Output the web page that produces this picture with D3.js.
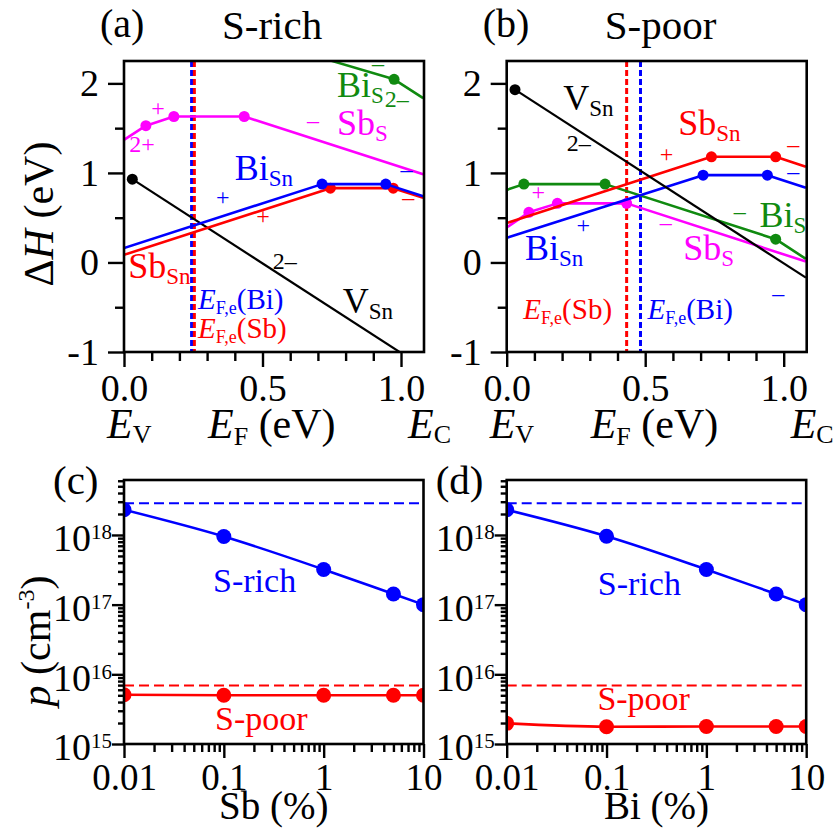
<!DOCTYPE html>
<html>
<head>
<meta charset="utf-8">
<script src="https://cdn.jsdelivr.net/npm/d3@7"></script>
<style>
  body { margin: 0; background: #fff; }
</style>
</head>
<body>
<svg id="fig" width="833" height="839"></svg>
<script>
const SERIF = "Liberation Serif";

// ---------- Formation energy ΔH (eV) vs Fermi level E_F (eV) ----------
// polyline vertices [E_F, ΔH]; slopes follow the charge state of each defect
const richVSn  = [[0.03, 0.93], [1.08, -1.17]];
const richBiSn = [[0, 0.16], [0.715, 0.875], [0.945, 0.875], [1.08, 0.74]];
const richSbSn = [[0, 0.085], [0.745, 0.83], [0.972, 0.83], [1.08, 0.722]];
const richSbS  = [[0, 1.37], [0.079, 1.528], [0.18, 1.63], [0.434, 1.63], [1.08, 0.984]];
const richBiS  = [[0.74, 2.26], [0.975, 2.045], [1.08, 1.835]];

const poorVSn  = [[0.03, 1.93], [1.08, -0.17]];
const poorSbSn = [[0, 0.44], [0.739, 1.18], [0.971, 1.18], [1.08, 1.07]];
const poorBiSn = [[0, 0.275], [0.709, 0.975], [0.941, 0.975], [1.08, 0.835]];
const poorBiS  = [[0, 0.81], [0.062, 0.875], [0.355, 0.875], [0.971, 0.26], [1.08, 0.04]];
const poorSbS  = [[0, 0.39], [0.08, 0.56], [0.183, 0.66], [0.433, 0.66], [1.08, 0.01]];

// charge-transition levels (marked with dots)
const richVSnTL  = [[0.03, 0.93]];
const richBiSnTL = [[0.715, 0.875], [0.945, 0.875]];
const richSbSnTL = [[0.745, 0.83], [0.972, 0.83]];
const richSbSTL  = [[0.079, 1.528], [0.18, 1.63], [0.434, 1.63]];
const richBiSTL  = [[0.975, 2.045]];

const poorVSnTL  = [[0.03, 1.93]];
const poorSbSnTL = [[0.739, 1.18], [0.971, 1.18]];
const poorBiSnTL = [[0.709, 0.975], [0.941, 0.975]];
const poorBiSTL  = [[0.062, 0.875], [0.355, 0.875], [0.971, 0.26]];
const poorSbSTL  = [[0.08, 0.56], [0.183, 0.66], [0.433, 0.66]];

// equilibrium Fermi levels E_F,e (eV)
const richEfBi = 0.244, richEfSb = 0.254;
const poorEfSb = 0.433, poorEfBi = 0.483;

// axis ticks
const efMajor = [0, 0.5, 1.0];
const efMinor = [0.1, 0.2, 0.3, 0.4, 0.6, 0.7, 0.8, 0.9];
const dhMajor = [-1, 0, 1, 2];
const dhMinor = [-0.5, 0.5, 1.5];

// ---------- Hole concentration p (cm^-3) vs dopant fraction (%) ----------
const dopantPct = [0.01, 0.1, 1, 5, 10];
const pRichSb = [2.3e18, 9.5e17, 3.2e17, 1.42e17, 1.0e17];
const pPoorSb = [5.1e15, 5.0e15, 5.0e15, 5.0e15, 5.0e15];
const pRichBi = [2.3e18, 9.6e17, 3.2e17, 1.42e17, 1.0e17];
const pPoorBi = [1.98e15, 1.77e15, 1.78e15, 1.78e15, 1.78e15];
const pRichUndoped = 2.85e18;
const pPoorUndoped = 6.9e15;
const pctMajor = [0.01, 0.1, 1, 10];
const pMajor = [1e15, 1e16, 1e17, 1e18];

const C = { blue: '#0000ff', red: '#ff0000', mag: '#ff00ff', green: '#108a10', black: '#000' };

const svg = d3.select('#fig');
const defs = svg.append('defs');

// text with sub/superscript parts
function rich(g, px, py, parts, size, fill, anchor, rotate) {
  const t = g.append('text').attr('x', px).attr('y', py)
    .attr('fill', fill).attr('font-size', size).attr('font-family', SERIF)
    .attr('text-anchor', anchor || 'start');
  if (rotate) t.attr('transform', `rotate(${rotate},${px},${py})`);
  let shift = 0;
  parts.forEach(p => {
    const target = p.sub ? (p.dy != null ? p.dy : size * 0.18) : p.sup ? -size * 0.38 : 0;
    const s = t.append('tspan').text(p.t);
    if (target - shift !== 0) s.attr('dy', target - shift);
    shift = target;
    if (p.sub || p.sup) s.attr('font-size', p.fs || Math.round(size * 0.64));
    if (p.i) s.attr('font-style', 'italic');
  });
  return t;
}

function styleAxis(g, fs) {
  g.select('.domain').remove();
  g.selectAll('.tick line').attr('stroke', '#000').attr('stroke-width', 2.4);
  g.attr('font-family', SERIF).attr('font-size', fs);
  g.selectAll('text').attr('fill', '#000').attr('font-size', fs).attr('font-family', SERIF);
}

// ---------------- panels (a) and (b) ----------------
function energyPanel(o) {
  const x = d3.scaleLinear().domain([0, 1.083]).range([o.left, o.left + 300]);
  const y = d3.scaleLinear().domain([-1, 2.25]).range([352, 61]);
  const g = svg.append('g');
  const [x0, x1] = x.range(), [y0, y1] = [y.range()[1], y.range()[0]];

  defs.append('clipPath').attr('id', 'clip-' + o.id)
    .append('rect').attr('x', x0).attr('y', y0).attr('width', x1 - x0).attr('height', y1 - y0);

  // axes: minor ticks, then labelled major ticks
  const axB = g.append('g').attr('transform', `translate(0,${y1})`);
  axB.append('g').call(d3.axisBottom(x).tickValues(efMinor).tickSize(9).tickFormat(''));
  axB.append('g').call(d3.axisBottom(x).tickValues(efMajor).tickSize(15).tickPadding(7)
    .tickFormat(d3.format('.1f')));
  axB.selectAll('g').each(function () { styleAxis(d3.select(this), 38); });

  const axL = g.append('g').attr('transform', `translate(${x0},0)`);
  axL.append('g').call(d3.axisLeft(y).tickValues(dhMinor).tickSize(9).tickFormat(''));
  axL.append('g').call(d3.axisLeft(y).tickValues(dhMajor).tickSize(16).tickPadding(9)
    .tickFormat(d => d < 0 ? '-' + Math.abs(d) : String(d)));
  axL.selectAll('g').each(function () { styleAxis(d3.select(this), 38); });

  const plot = g.append('g').attr('clip-path', `url(#clip-${o.id})`);

  // equilibrium Fermi levels
  o.ef.forEach(e => {
    plot.append('line').attr('x1', x(e.v)).attr('x2', x(e.v)).attr('y1', y0).attr('y2', y1)
      .attr('stroke', e.c).attr('stroke-width', 3).attr('stroke-dasharray', '6,3');
  });

  const line = d3.line().x(d => x(d[0])).y(d => y(d[1]));
  o.series.forEach(s => {
    plot.append('path').attr('d', line(s.pts)).attr('fill', 'none')
      .attr('stroke', s.c).attr('stroke-width', s.w || 2.6).attr('stroke-linejoin', 'round');
    plot.selectAll(null).data(s.tl).join('circle')
      .attr('cx', d => x(d[0])).attr('cy', d => y(d[1])).attr('r', 5.5).attr('fill', s.c);
  });

  // labels in data coordinates
  o.labels.forEach(l => rich(g, x(l.x), y(l.y), l.parts, l.fs, l.c, l.a));

  g.append('rect').attr('x', x0).attr('y', y0).attr('width', x1 - x0).attr('height', y1 - y0)
    .attr('fill', 'none').attr('stroke', '#000').attr('stroke-width', 2.6);

  // axis titles
  const band = o.left - 124;
  rich(g, 107 + band, 438, [{ t: 'E', i: true }, { t: 'V', sub: true, dy: 5, fs: 26 }], 42, '#000');
  rich(g, 208 + band, 438, [{ t: 'E', i: true }, { t: 'F', sub: true, dy: 7, fs: 26 }, { t: ' (eV)' }], 42, '#000');
  rich(g, 408 + band, 438, [{ t: 'E', i: true }, { t: 'C', sub: true, dy: 5, fs: 26 }], 42, '#000');
  rich(g, o.left - 24, 37, [{ t: o.tag }], 40, '#000');
  rich(g, o.left + 98, 39, [{ t: o.title }], 41, '#000');
}

const sp = (main, sub, xv, yv, c) => ({ x: xv, y: yv, c, fs: 36, parts: [{ t: main }, { t: sub, sub: true, dy: 6, fs: 23 }] });
const q = (t, xv, yv, c) => ({ x: xv, y: yv, c, fs: 24, a: 'middle', parts: [{ t }] });
const ef = (el, xv, yv, c) => ({ x: xv, y: yv, c, fs: 29, parts: [{ t: 'E', i: true }, { t: 'F,e', sub: true, dy: 5, fs: 18 }, { t: '(' + el + ')' }] });

energyPanel({
  id: 'a', left: 124, tag: '(a)', title: 'S-rich',
  ef: [{ v: richEfBi, c: C.blue }, { v: richEfSb, c: C.red }],
  series: [
    { pts: richVSn, tl: richVSnTL, c: C.black, w: 2.2 },
    { pts: richBiS, tl: richBiSTL, c: C.green },
    { pts: richSbS, tl: richSbSTL, c: C.mag },
    { pts: richSbSn, tl: richSbSnTL, c: C.red },
    { pts: richBiSn, tl: richBiSnTL, c: C.blue }
  ],
  labels: [
    sp('Bi', 'S', 0.769, 1.85, C.green),
    q('–', 0.917, 2.14, C.green),
    q('2–', 0.985, 1.74, C.green),
    sp('Sb', 'S', 0.769, 1.42, C.mag),
    q('–', 0.682, 1.5, C.mag),
    q('+', 0.123, 1.64, C.mag),
    q('2+', 0.065, 1.23, C.mag),
    sp('Bi', 'Sn', 0.40, 0.92, C.blue),
    q('+', 0.357, 0.64, C.blue),
    q('+', 0.502, 0.435, C.red),
    q('–', 1.02, 0.95, C.blue),
    q('–', 1.026, 0.64, C.red),
    sp('Sb', 'Sn', 0.015, -0.175, C.red),
    q('2–', 0.58, -0.07, C.black),
    sp('V', 'Sn', 0.79, -0.57, C.black),
    ef('Bi', 0.267, -0.52, C.blue),
    ef('Sb', 0.267, -0.84, C.red)
  ]
});

energyPanel({
  id: 'b', left: 506.7, tag: '(b)', title: 'S-poor',
  ef: [{ v: poorEfSb, c: C.red }, { v: poorEfBi, c: C.blue }],
  series: [
    { pts: poorSbS, tl: poorSbSTL, c: C.mag },
    { pts: poorBiS, tl: poorBiSTL, c: C.green },
    { pts: poorBiSn, tl: poorBiSnTL, c: C.blue },
    { pts: poorSbSn, tl: poorSbSnTL, c: C.red },
    { pts: poorVSn, tl: poorVSnTL, c: C.black, w: 2.2 }
  ],
  labels: [
    sp('V', 'Sn', 0.204, 1.70, C.black),
    q('2–', 0.26, 1.25, C.black),
    sp('Sb', 'Sn', 0.619, 1.42, C.red),
    q('+', 0.577, 1.12, C.red),
    q('–', 1.034, 1.23, C.red),
    q('–', 1.034, 0.93, C.blue),
    q('+', 0.114, 0.70, C.mag),
    q('–', 0.841, 0.49, C.green),
    sp('Bi', 'S', 0.913, 0.40, C.green),
    q('+', 0.276, 0.33, C.blue),
    q('–', 0.574, 0.36, C.mag),
    sp('Bi', 'Sn', 0.066, 0.026, C.blue),
    sp('Sb', 'S', 0.637, 0.026, C.mag),
    q('–', 0.98, -0.425, C.blue),
    ef('Sb', 0.06, -0.626, C.red),
    ef('Bi', 0.508, -0.626, C.blue)
  ]
});

rich(svg, 53, 214, [{ t: 'Δ' }, { t: 'H', i: true }, { t: ' (eV)' }], 42, '#000', 'middle', -90);

// ---------------- panels (c) and (d) ----------------
function carrierPanel(o) {
  const x = d3.scaleLog().domain([0.01, 10]).range([o.left, o.left + 299.5]);
  const y = d3.scaleLog().domain([1e15, 6.15e18]).range([744, 480]);
  const g = svg.append('g');
  const [x0, x1] = x.range(), y0 = 480, y1 = 744;

  defs.append('clipPath').attr('id', 'clip-' + o.id)
    .append('rect').attr('x', x0).attr('y', y0).attr('width', x1 - x0).attr('height', y1 - y0);

  const xMinor = [], yMinor = [];
  [-2, -1, 0].forEach(e => d3.range(2, 10).forEach(k => xMinor.push(k * Math.pow(10, e))));
  [15, 16, 17, 18].forEach(e => d3.range(2, 10).forEach(k => {
    const v = k * Math.pow(10, e);
    if (v <= y.domain()[1]) yMinor.push(v);
  }));

  const axB = g.append('g').attr('transform', `translate(0,${y1})`);
  axB.append('g').call(d3.axisBottom(x).tickValues(xMinor).tickSize(8).tickFormat(''));
  axB.append('g').call(d3.axisBottom(x).tickValues(pctMajor).tickSize(14).tickPadding(6)
    .tickFormat(d => String(d)));
  axB.selectAll('g').each(function () { styleAxis(d3.select(this), 37); });

  const axL = g.append('g').attr('transform', `translate(${x0},0)`);
  axL.append('g').call(d3.axisLeft(y).tickValues(yMinor).tickSize(6).tickFormat(''));
  const maj = axL.append('g').call(d3.axisLeft(y).tickValues(pMajor).tickSize(12).tickPadding(0));
  axL.selectAll('g').each(function () { styleAxis(d3.select(this), 38); });
  maj.selectAll('.tick text').each(function (d) {
    const t = d3.select(this).text(null).attr('dy', '0.42em');
    t.append('tspan').text('10');
    t.append('tspan').attr('dy', -12).attr('font-size', 21).text(Math.round(Math.log10(d)));
  });

  const plot = g.append('g').attr('clip-path', `url(#clip-${o.id})`);
  [{ v: pRichUndoped, c: C.blue }, { v: pPoorUndoped, c: C.red }].forEach(h => {
    plot.append('line').attr('x1', x0).attr('x2', x1).attr('y1', y(h.v)).attr('y2', y(h.v))
      .attr('stroke', h.c).attr('stroke-width', 2).attr('stroke-dasharray', '10,5');
  });
  const line = d3.line().x(d => x(d[0])).y(d => y(d[1])).curve(d3.curveMonotoneX);
  o.series.forEach(s => {
    const pts = dopantPct.map((v, i) => [v, s.v[i]]);
    plot.append('path').attr('d', line(pts)).attr('fill', 'none')
      .attr('stroke', s.c).attr('stroke-width', 2.6);
    plot.selectAll(null).data(pts).join('circle')
      .attr('cx', d => x(d[0])).attr('cy', d => y(d[1])).attr('r', 7.5).attr('fill', s.c);
  });

  o.labels.forEach(l => rich(g, x(l.x), y(l.y), [{ t: l.t }], 34, l.c));

  g.append('rect').attr('x', x0).attr('y', y0).attr('width', x1 - x0).attr('height', y1 - y0)
    .attr('fill', 'none').attr('stroke', '#000').attr('stroke-width', 2.6);

  rich(g, (x0 + x1) / 2, 819, [{ t: o.xTitle }], 39, '#000', 'middle');
  rich(g, o.left - 71, 494, [{ t: o.tag }], 41, '#000');
}

carrierPanel({
  id: 'c', left: 124, tag: '(c)', xTitle: 'Sb (%)',
  series: [{ v: pRichSb, c: C.blue }, { v: pPoorSb, c: C.red }],
  labels: [
    { t: 'S-rich', x: 0.078, y: 1.54e17, c: C.blue },
    { t: 'S-poor', x: 0.0818, y: 1.59e15, c: C.red }
  ]
});
carrierPanel({
  id: 'd', left: 506.7, tag: '(d)', xTitle: 'Bi (%)',
  series: [{ v: pRichBi, c: C.blue }, { v: pPoorBi, c: C.red }],
  labels: [
    { t: 'S-rich', x: 0.0818, y: 1.38e17, c: C.blue },
    { t: 'S-poor', x: 0.081, y: 3.07e15, c: C.red }
  ]
});

rich(svg, 50, 641, [{ t: 'p', i: true }, { t: ' (cm' }, { t: '-3', sup: true, fs: 24 }, { t: ')' }], 42, '#000', 'middle', -90);
</script>
</body>
</html>
